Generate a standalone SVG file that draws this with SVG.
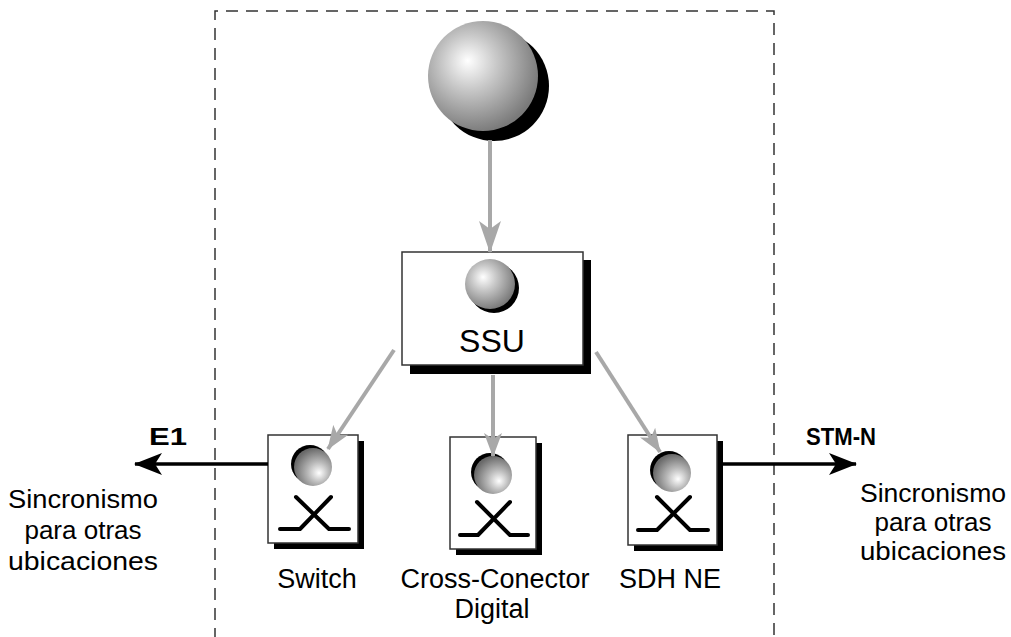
<svg xmlns="http://www.w3.org/2000/svg" width="1011" height="637" viewBox="0 0 1011 637">
  <defs>
    <radialGradient id="ballTop" cx="0.4" cy="0.4" r="0.62" fx="0.36" fy="0.36">
      <stop offset="0" stop-color="#ffffff"/>
      <stop offset="0.4" stop-color="#c8c8c8"/>
      <stop offset="1" stop-color="#7a7a7a"/>
    </radialGradient>
    <radialGradient id="ballLow" cx="0.62" cy="0.62" r="0.62" fx="0.66" fy="0.66">
      <stop offset="0" stop-color="#ffffff"/>
      <stop offset="0.45" stop-color="#b8b8b8"/>
      <stop offset="1" stop-color="#6a6a6a"/>
    </radialGradient>
    <marker id="grayHead" viewBox="0 0 24 18" refX="23" refY="9" markerWidth="24" markerHeight="18" markerUnits="userSpaceOnUse" orient="auto">
      <path d="M0,0 L24,9 L0,18 L6,9 Z" fill="#a8a8a8"/>
    </marker>
    <marker id="grayHeadBig" viewBox="0 0 32 22" refX="31" refY="11" markerWidth="32" markerHeight="22" markerUnits="userSpaceOnUse" orient="auto">
      <path d="M0,0 L32,11 L0,22 L8,11 Z" fill="#a8a8a8"/>
    </marker>
    <marker id="blackHead" viewBox="0 0 28 22" refX="27" refY="11" markerWidth="28" markerHeight="22" markerUnits="userSpaceOnUse" orient="auto">
      <path d="M0,0 L28,11 L0,22 L7,11 Z" fill="#000"/>
    </marker>
  </defs>
  <style>
    .frame { fill: none; stroke: #333; stroke-width: 1.5; stroke-dasharray: 12 8; }
    .box { fill: #fff; stroke: #333; stroke-width: 1.5; }
    .shadow { fill: #000; }
    .xsym { fill: none; stroke: #000; stroke-width: 4; stroke-linecap: round; stroke-linejoin: round; }
    .feed { fill: none; stroke: #a8a8a8; stroke-width: 4; }
    .out { fill: none; stroke: #000; stroke-width: 3.5; }
    .lbl { font-family: "Liberation Sans", Arial, sans-serif; fill: #000; }
  </style>

  <rect width="1011" height="637" fill="#fff"/>

  <!-- site boundary -->
  <path class="frame" d="M215,640 V11 H774 V640"/>

  <!-- master clock -->
  <g id="clock">
    <circle cx="494" cy="86" r="55" class="shadow"/>
    <circle cx="483" cy="76" r="55" fill="url(#ballTop)"/>
  </g>

  <!-- SSU -->
  <g id="ssu">
    <rect x="410" y="260" width="181" height="114" class="shadow"/>
    <rect x="402" y="252" width="181" height="113" class="box"/>
    <circle cx="494" cy="288" r="25" class="shadow"/>
    <circle cx="490" cy="284" r="25" fill="url(#ballTop)"/>
    <text x="492" y="352" class="lbl" font-size="32" text-anchor="middle">SSU</text>
  </g>

  <!-- Switch -->
  <g id="switch">
    <rect x="274" y="441" width="90" height="108" class="shadow"/>
    <rect x="268" y="435" width="90" height="108" class="box"/>
    <circle cx="310" cy="464" r="19" class="shadow"/>
    <circle cx="313" cy="467" r="19" fill="url(#ballLow)"/>
    <path class="xsym" d="M280,529 H300 L331,497 M296,497 L329,529 H349"/>
    <text x="317" y="588" class="lbl" font-size="27" text-anchor="middle">Switch</text>
  </g>

  <!-- Cross-Conector Digital -->
  <g id="crossconnect">
    <rect x="456" y="443" width="86" height="112" class="shadow"/>
    <rect x="450" y="437" width="86" height="112" class="box"/>
    <circle cx="490" cy="472" r="19" class="shadow"/>
    <circle cx="493" cy="475" r="19" fill="url(#ballLow)"/>
    <path class="xsym" d="M460,535 H478 L510,502 M477,502 L510,535 H528"/>
    <text x="495" y="588" class="lbl" font-size="27" text-anchor="middle">Cross-Conector</text>
    <text x="492" y="618" class="lbl" font-size="27" text-anchor="middle">Digital</text>
  </g>

  <!-- SDH NE -->
  <g id="sdhne">
    <rect x="634" y="441" width="89" height="110" class="shadow"/>
    <rect x="628" y="435" width="89" height="110" class="box"/>
    <circle cx="669" cy="470" r="19" class="shadow"/>
    <circle cx="672" cy="473" r="19" fill="url(#ballLow)"/>
    <path class="xsym" d="M638,530 H657 L690,497 M657,497 L690,530 H708"/>
    <text x="670" y="588" class="lbl" font-size="27" text-anchor="middle">SDH NE</text>
  </g>

  <!-- connectors, drawn over the boxes so the heads reach the clocks -->
  <g id="connectors">
    <line x1="490" y1="140" x2="490" y2="252" class="feed" stroke-width="7" marker-end="url(#grayHeadBig)"/>
    <line x1="394" y1="350" x2="328" y2="449" class="feed" marker-end="url(#grayHead)"/>
    <line x1="493" y1="375" x2="493" y2="456" class="feed" marker-end="url(#grayHead)"/>
    <line x1="596" y1="352" x2="660" y2="452" class="feed" marker-end="url(#grayHead)"/>
    <line x1="268" y1="464" x2="135" y2="464" class="out" marker-end="url(#blackHead)"/>
    <line x1="723" y1="464" x2="856" y2="464" class="out" marker-end="url(#blackHead)"/>
  </g>

  <!-- outgoing timing labels -->
  <g id="e1">
    <text x="149" y="445" class="lbl" font-size="23" font-weight="bold" textLength="38" lengthAdjust="spacingAndGlyphs">E1</text>
    <text x="83" y="508" class="lbl" font-size="26" text-anchor="middle" textLength="150" lengthAdjust="spacingAndGlyphs">Sincronismo</text>
    <text x="83" y="539" class="lbl" font-size="26" text-anchor="middle">para otras</text>
    <text x="83" y="570" class="lbl" font-size="26" text-anchor="middle" textLength="150" lengthAdjust="spacingAndGlyphs">ubicaciones</text>
  </g>
  <g id="stmn">
    <text x="806" y="445" class="lbl" font-size="23" font-weight="bold" textLength="70" lengthAdjust="spacingAndGlyphs">STM-N</text>
    <text x="933" y="502" class="lbl" font-size="26" text-anchor="middle" textLength="146" lengthAdjust="spacingAndGlyphs">Sincronismo</text>
    <text x="933" y="531" class="lbl" font-size="26" text-anchor="middle">para otras</text>
    <text x="933" y="560" class="lbl" font-size="26" text-anchor="middle" textLength="146" lengthAdjust="spacingAndGlyphs">ubicaciones</text>
  </g>
</svg>
